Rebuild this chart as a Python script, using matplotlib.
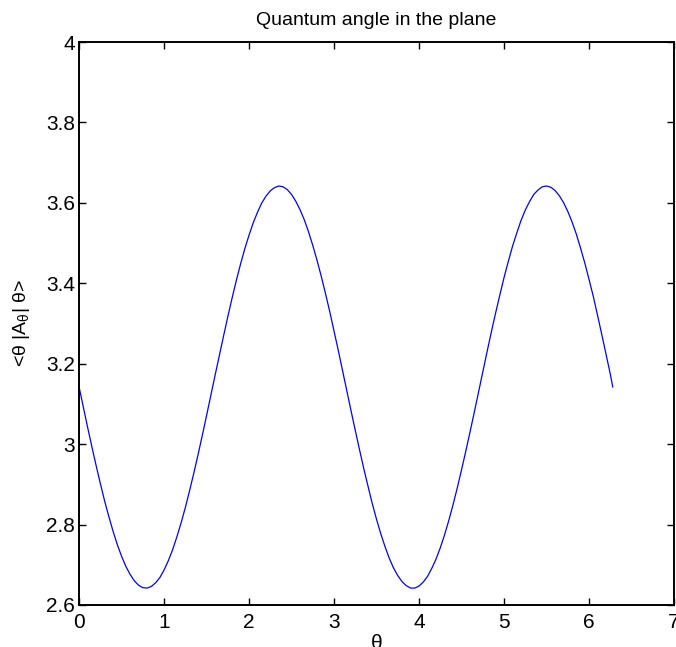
import matplotlib
matplotlib.use("Agg")
import matplotlib.pyplot as plt

theta = [0.00, 0.05, 0.10, 0.15, 0.20, 0.25, 0.30, 0.35, 0.40, 0.45,
         0.50, 0.55, 0.60, 0.65, 0.70, 0.75, 0.80, 0.85, 0.90, 0.95,
         1.00, 1.05, 1.10, 1.15, 1.20, 1.25, 1.30, 1.35, 1.40, 1.45,
         1.50, 1.55, 1.60, 1.65, 1.70, 1.75, 1.80, 1.85, 1.90, 1.95,
         2.00, 2.05, 2.10, 2.15, 2.20, 2.25, 2.30, 2.35, 2.40, 2.45,
         2.50, 2.55, 2.60, 2.65, 2.70, 2.75, 2.80, 2.85, 2.90, 2.95,
         3.00, 3.05, 3.10, 3.15, 3.20, 3.25, 3.30, 3.35, 3.40, 3.45,
         3.50, 3.55, 3.60, 3.65, 3.70, 3.75, 3.80, 3.85, 3.90, 3.95,
         4.00, 4.05, 4.10, 4.15, 4.20, 4.25, 4.30, 4.35, 4.40, 4.45,
         4.50, 4.55, 4.60, 4.65, 4.70, 4.75, 4.80, 4.85, 4.90, 4.95,
         5.00, 5.05, 5.10, 5.15, 5.20, 5.25, 5.30, 5.35, 5.40, 5.45,
         5.50, 5.55, 5.60, 5.65, 5.70, 5.75, 5.80, 5.85, 5.90, 5.95,
         6.00, 6.05, 6.10, 6.15, 6.20, 6.25, 6.28]
expval = [3.142, 3.092, 3.042, 2.994, 2.947, 2.902, 2.859, 2.820, 2.783, 2.750,
          2.721, 2.696, 2.676, 2.660, 2.649, 2.643, 2.642, 2.646, 2.655, 2.668,
          2.687, 2.710, 2.737, 2.769, 2.804, 2.842, 2.884, 2.928, 2.974, 3.022,
          3.071, 3.121, 3.171, 3.220, 3.269, 3.317, 3.363, 3.407, 3.448, 3.486,
          3.520, 3.551, 3.577, 3.600, 3.617, 3.630, 3.638, 3.642, 3.640, 3.633,
          3.621, 3.604, 3.583, 3.558, 3.528, 3.494, 3.457, 3.417, 3.374, 3.329,
          3.281, 3.233, 3.183, 3.133, 3.083, 3.034, 2.986, 2.939, 2.895, 2.852,
          2.813, 2.777, 2.745, 2.716, 2.692, 2.673, 2.658, 2.648, 2.642, 2.642,
          2.647, 2.657, 2.671, 2.691, 2.714, 2.742, 2.774, 2.810, 2.849, 2.891,
          2.936, 2.982, 3.030, 3.079, 3.129, 3.179, 3.229, 3.278, 3.325, 3.370,
          3.414, 3.454, 3.492, 3.525, 3.556, 3.582, 3.603, 3.621, 3.632, 3.640,
          3.642, 3.639, 3.631, 3.618, 3.601, 3.579, 3.553, 3.523, 3.488, 3.451,
          3.410, 3.368, 3.321, 3.273, 3.224, 3.175, 3.142]

xticks = [0, 1, 2, 3, 4, 5, 6, 7]
yticks = [2.6, 2.8, 3.0, 3.2, 3.4, 3.6, 3.8, 4.0]
ytick_labels = ["2.6", "2.8", "3", "3.2", "3.4", "3.6", "3.8", "4"]

plt.rcParams['font.family'] = ['Liberation Sans', 'DejaVu Sans']
plt.rcParams['mathtext.fontset'] = 'custom'
plt.rcParams['mathtext.rm'] = 'Liberation Sans'

fig = plt.figure(figsize=(6.76, 6.47), dpi=100)
ax = fig.add_axes([0.117, 0.065, 0.880, 0.870])

ax.plot(theta, expval, color='#0000ff', linewidth=0.9)

ax.set_xlim(0, 7)
ax.set_ylim(2.6, 4.0)
ax.set_xticks(xticks)
ax.set_yticks(yticks)
ax.set_yticklabels(ytick_labels)
ax.tick_params(direction='in', top=True, right=True, length=5, width=1,
               labelsize=15)
ax.tick_params(axis='x', pad=6)
ax.tick_params(axis='y', pad=3)
for s in ax.spines.values():
    s.set_linewidth(1.4)

ax.set_title('Quantum angle in the plane', fontsize=14, pad=12)
ax.set_xlabel('θ', fontsize=15, labelpad=1)
ax.set_ylabel(r'<θ |A$_{\mathrm{θ}}$| θ>', fontsize=14, labelpad=10)

fig.savefig('out.png', dpi=100)
